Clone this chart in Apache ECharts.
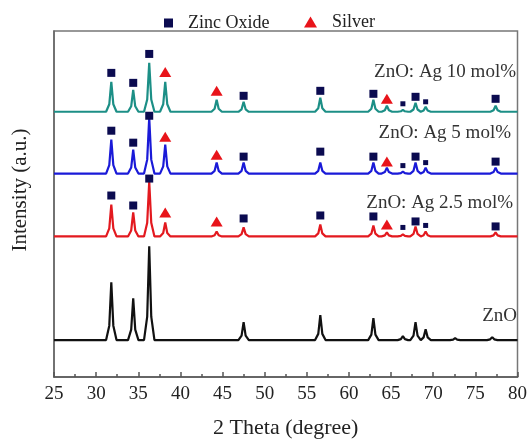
<!DOCTYPE html>
<html><head><meta charset="utf-8">
<script src="https://cdn.jsdelivr.net/npm/echarts@6/dist/echarts.min.js"></script>
<style>html,body{margin:0;padding:0;background:#fff}#c{width:530px;height:444px}</style>
</head><body><div id="c"></div>
<script>
// ---- data ----
const xTickLabels = [25, 30, 35, 40, 45, 50, 55, 60, 65, 70, 75, 80];
// peak positions (2θ) of the doped samples and what they are assigned to
const dopedPeaks = [31.8, 34.4, 36.3, 38.2, 44.3, 47.5, 56.6, 62.9, 64.5, 66.4, 67.9, 69.1, 77.4];
const dopedKinds = ['Z', 'Z', 'Z', 'A', 'A', 'Z', 'Z', 'Z', 'A', 'z', 'Z', 'z', 'Z']; // Z zinc oxide, z small zinc oxide, A silver
// ZnO: Ag 10 mol% (offset trace)
const ag10Base = 266;
const ag10Tops = [296, 288, 315, 296, 278, 276, 280, 278, 272, 268, 275, 271, 272];
const ag10Marks = [305, 295, 324, 306, 287, 282, 287, 284, 279, 274, 281, 276, 279];
// ZnO: Ag 5 mol%
const ag5Base = 204;
const ag5Tops = [238, 228, 260, 233, 215, 215, 215, 215, 210, 206, 215, 210, 210];
const ag5Marks = [247, 235, 262, 241, 223, 221, 226, 221, 216, 212, 221, 215, 216];
// ZnO: Ag 2.5 mol%
const ag25Base = 141;
const ag25Tops = [173, 165, 196, 155, 146, 150, 153, 152, 145, 143, 151, 146, 145];
const ag25Marks = [182, 172, 199, 165, 156, 159, 162, 161, 153, 150, 156, 152, 151];
// pure ZnO
const znoPeaks = [31.8, 34.4, 36.3, 47.5, 56.6, 62.9, 66.4, 67.9, 69.1, 72.6, 77.0];
const znoBase = 37;
const znoTops = [95, 79, 131, 55, 62, 59, 41, 55, 48, 39, 40];

// ---- build polylines from the read peak tops ----
const SHAPE = {foot: 0.62, shoulder: 0.24, shoulderFrac: 0.25};
function trace(pos, tops, base) {
  const pts = [[25, base]];
  pos.forEach((p, i) => {
    const h = tops[i] - base;
    pts.push([p - SHAPE.foot, base], [p - SHAPE.shoulder, base + SHAPE.shoulderFrac * h], [p, tops[i]],
             [p + SHAPE.shoulder, base + SHAPE.shoulderFrac * h], [p + SHAPE.foot, base]);
  });
  pts.push([80, base]);
  return pts;
}
const zincPts = [], silverPts = [];
[ag10Marks, ag5Marks, ag25Marks].forEach(marks => {
  dopedPeaks.forEach((p, i) => {
    const k = dopedKinds[i];
    if (k === 'A') silverPts.push([p, marks[i]]);
    else zincPts.push({value: [p, marks[i]], symbolSize: k === 'z' ? 5 : 8});
  });
});

const SERIF = '"Liberation Serif", "DejaVu Serif", serif';
const chart = echarts.init(document.getElementById('c'), null, {renderer: 'canvas'});
function line(name, data, color) {
  return {name, type: 'line', data, showSymbol: false, symbol: 'none', animation: false,
          lineStyle: {color, width: 2.2}, z: 2};
}
const labelStyle = {font: '19px ' + SERIF, fill: '#333', align: 'right', verticalAlign: 'middle', textAlign: 'right', textVerticalAlign: 'middle'};
chart.setOption({
  animation: false,
  backgroundColor: '#fff',
  grid: {left: 54, right: 11, top: 31, bottom: 66, show: true, borderColor: '#777', borderWidth: 1.5},
  legend: [
    {data: [{name: 'Zinc Oxide', icon: 'rect'}], left: 159, top: 9, itemWidth: 9, itemHeight: 9,
     textStyle: {fontSize: 18, fontFamily: SERIF, color: '#222', padding: [0, 0, 0, 10]}},
    {data: [{name: 'Silver', icon: 'triangle'}], left: 299, top: 8, itemWidth: 13, itemHeight: 11,
     textStyle: {fontSize: 18, fontFamily: SERIF, color: '#222', padding: [0, 0, 0, 10]}}
  ],
  xAxis: {
    type: 'value', min: 25, max: 80, interval: 5,
    name: '2 Theta (degree)', nameLocation: 'middle', nameGap: 40,
    nameTextStyle: {fontSize: 22, fontFamily: SERIF, color: '#222'},
    axisLine: {show: true, lineStyle: {color: '#555', width: 1.5}},
    axisTick: {show: true, inside: true, length: 5, lineStyle: {color: '#555', width: 1.5}},
    minorTick: {show: true, splitNumber: 2, length: 3, lineStyle: {color: '#555', width: 1.5}},
    splitLine: {show: false},
    axisLabel: {fontSize: 19, fontFamily: SERIF, color: '#222', margin: 8,
                formatter: v => xTickLabels.includes(v) ? String(v) : ''}
  },
  yAxis: {
    type: 'value', min: 0, max: 347,
    axisLine: {show: true, lineStyle: {color: '#666', width: 1.5}},
    axisTick: {show: false}, axisLabel: {show: false}, splitLine: {show: false}
  },
  series: [
    line('ZnO', trace(znoPeaks, znoTops, znoBase), '#111111'),
    line('ZnO: Ag 2.5 mol%', trace(dopedPeaks, ag25Tops, ag25Base), '#e3191f'),
    line('ZnO: Ag 5 mol%', trace(dopedPeaks, ag5Tops, ag5Base), '#1a1ad8'),
    line('ZnO: Ag 10 mol%', trace(dopedPeaks, ag10Tops, ag10Base), '#1c8f86'),
    {name: 'Zinc Oxide', type: 'scatter', symbol: 'rect', data: zincPts, z: 5,
     itemStyle: {color: '#0b0b50', opacity: 1}},
    {name: 'Silver', type: 'scatter', symbol: 'triangle', symbolSize: [12, 10], data: silverPts, z: 5,
     itemStyle: {color: '#e8141a', opacity: 1}}
  ],
  graphic: [
    {type: 'text', x: 20, y: 190, rotation: Math.PI / 2,
     style: {text: 'Intensity (a.u.)', font: '21px ' + SERIF, fill: '#222', align: 'center', verticalAlign: 'middle', textAlign: 'center', textVerticalAlign: 'middle'}},
    {type: 'text', x: 516, y: 72, style: Object.assign({text: 'ZnO: Ag 10 mol%'}, labelStyle)},
    {type: 'text', x: 511, y: 133, style: Object.assign({text: 'ZnO: Ag 5 mol%'}, labelStyle)},
    {type: 'text', x: 513, y: 203, style: Object.assign({text: 'ZnO: Ag 2.5 mol%'}, labelStyle)},
    {type: 'text', x: 517, y: 316, style: Object.assign({text: 'ZnO'}, labelStyle)}
  ]
});
</script></body></html>
